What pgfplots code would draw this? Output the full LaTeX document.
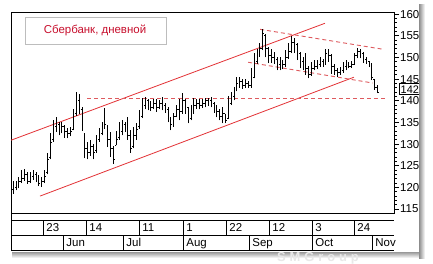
\documentclass[border=0pt]{standalone}
\usepackage{fontspec}
\setmainfont{Liberation Sans}
\newfontfamily\wmfont[LetterSpace=30]{Liberation Sans}
\usepackage{pgfplots}
\usepackage{pgfplotstable}
\pgfplotsset{compat=1.18}
\definecolor{trendred}{HTML}{E33236}
\definecolor{dashred}{HTML}{DE5A5E}
\definecolor{titlered}{HTML}{C8102E}
\definecolor{boxgray}{HTML}{BDBDBD}
\pgfplotstableread{
i o h l c
0 119.5 121.5 118.5 120.0
1 120.0 121.5 119.3 120.5
2 120.5 122.3 119.8 121.5
3 121.5 124.0 121.0 122.0
4 122.0 124.3 121.5 123.0
5 123.0 123.6 120.8 121.5
6 121.5 123.5 121.0 122.5
7 122.5 124.0 121.8 123.0
8 123.0 123.5 121.2 122.0
9 122.0 122.8 120.3 121.0
10 121.0 122.3 120.2 121.5
11 121.5 124.0 121.0 122.5
12 123.5 128.0 123.0 126.5
13 127.0 132.5 126.5 130.5
14 131.0 135.5 130.5 134.0
15 134.0 136.3 132.8 134.5
16 134.5 135.2 132.0 133.0
17 133.0 135.0 132.5 134.0
18 134.0 134.5 131.5 133.0
19 133.0 133.8 131.3 132.5
20 132.5 134.0 131.8 133.0
21 133.5 138.0 133.2 136.5
22 137.0 142.0 136.5 140.0
23 140.0 141.5 137.0 139.5
24 138.0 138.5 133.0 134.5
25 132.0 132.5 126.7 129.0
26 129.0 130.5 126.5 128.0
27 128.0 131.0 127.3 129.5
28 129.5 130.0 126.5 128.0
29 128.5 132.0 128.0 131.0
30 131.0 133.7 130.5 132.5
31 132.5 135.0 132.0 134.0
32 134.0 138.3 133.5 134.5
33 134.0 134.4 129.3 131.0
34 131.0 132.7 127.0 129.0
35 129.0 129.5 125.5 126.5
36 129.8 133.0 129.7 131.0
37 131.5 135.0 131.0 133.0
38 133.0 135.5 132.0 134.5
39 134.5 135.0 132.8 133.5
40 133.5 136.2 131.0 132.0
41 132.0 133.2 128.0 129.0
42 129.5 134.0 129.0 132.0
43 132.0 134.8 131.0 133.5
44 134.0 137.8 133.5 136.0
45 136.5 140.6 136.0 139.0
46 139.0 140.8 138.0 140.0
47 140.0 140.5 137.8 139.0
48 139.0 140.0 137.6 138.5
49 138.5 140.5 138.0 139.5
50 139.5 140.5 137.5 138.5
51 138.5 140.3 138.0 139.5
52 139.5 140.8 137.8 139.0
53 139.0 139.6 137.3 138.0
54 138.0 138.5 135.0 136.0
55 136.0 136.2 133.2 134.5
56 134.5 137.3 134.0 136.5
57 136.5 139.0 136.2 138.0
58 138.0 140.5 135.5 137.5
59 137.5 141.7 137.0 140.0
60 140.0 140.5 137.0 139.0
61 138.5 138.5 134.8 136.0
62 136.0 139.0 135.5 137.5
63 137.5 140.6 137.0 139.0
64 139.0 140.4 138.2 139.5
65 139.5 140.5 138.0 139.0
66 139.0 140.4 138.4 139.5
67 139.5 140.6 138.5 140.0
68 140.0 140.7 138.8 140.0
69 140.0 140.8 138.5 139.5
70 139.5 139.8 137.2 138.0
71 138.0 139.0 136.2 137.5
72 137.5 138.0 135.5 136.5
73 136.5 138.5 134.8 137.0
74 137.0 137.0 134.8 135.5
75 136.0 141.0 135.8 139.5
76 139.5 142.0 139.0 141.0
77 141.0 143.2 140.1 142.5
78 142.5 145.5 142.2 144.0
79 144.0 145.5 143.0 144.5
80 144.5 145.0 142.8 143.5
81 143.5 145.0 143.0 144.0
82 144.0 144.6 142.9 143.5
83 143.5 147.5 143.0 145.5
84 145.5 151.0 145.2 149.0
85 149.0 152.0 148.5 150.5
86 150.5 153.3 150.2 152.0
87 152.0 156.5 151.7 155.5
88 155.0 155.5 150.0 152.0
89 152.0 152.5 148.7 150.5
90 150.5 152.0 148.7 150.0
91 150.0 151.3 148.6 149.5
92 149.5 150.0 147.0 148.5
93 148.5 150.0 147.0 148.0
94 148.0 149.5 147.3 148.5
95 148.5 151.7 147.8 150.0
96 150.0 153.3 149.7 151.5
97 151.5 155.0 151.0 153.5
98 153.5 154.5 151.0 153.0
99 153.0 153.3 149.4 151.0
100 151.0 151.3 147.5 149.0
101 149.0 150.0 147.0 148.0
102 148.0 151.0 146.0 147.5
103 147.5 148.0 145.2 146.0
104 146.0 149.0 145.8 147.5
105 147.5 149.4 147.0 148.0
106 148.0 149.5 147.3 148.5
107 148.5 150.0 147.8 149.0
108 149.0 149.6 147.8 148.5
109 148.5 152.0 148.3 151.0
110 151.0 152.0 149.0 150.5
111 150.5 150.7 146.3 148.0
112 148.0 148.4 146.0 147.0
113 147.0 147.5 145.5 146.5
114 146.5 147.8 146.0 147.0
115 147.0 149.0 146.5 148.0
116 148.0 149.4 147.0 148.5
117 148.5 149.0 147.5 148.0
118 148.0 149.3 147.6 148.5
119 148.5 151.0 148.3 150.5
120 150.5 152.3 149.8 151.5
121 151.5 152.0 149.8 151.0
122 151.0 151.3 148.7 149.5
123 149.5 150.0 148.5 149.0
124 149.0 149.2 147.8 148.0
125 148.0 148.7 144.8 145.5
126 145.0 145.0 142.5 143.0
127 143.0 143.6 141.8 142.0
}\ohlc
\begin{document}
\begin{tikzpicture}
\path[use as bounding box, fill=white] (0,0) rectangle (433bp,-264bp);
% drop shadow of the window
\shade[left color=black!45, right color=white] (419bp,-4bp) rectangle (425bp,-258bp);
\shade[top color=black!40, bottom color=white] (12bp,-252bp) rectangle (421bp,-258bp);
\fill[white] (0,0) rectangle (419bp,-252bp);
% faint watermark
\node[anchor=center, text=black!9, font=\wmfont\fontsize{13}{13}\selectfont\bfseries] at (318bp,-258bp) {SMGroup};
\begin{axis}[
  at={(11bp,-12bp)}, anchor=north west,
  width=383bp, height=201bp, scale only axis,
  xmin=-0.7, xmax=132.75, ymin=114.1, ymax=160.5,
  xtick=\empty,
  ytick={115,120,...,160},
  minor y tick num=4,
  ytick pos=right, yticklabel pos=right,
  tick align=outside,
  major tick length=5bp, minor tick length=2.5bp,
  every tick/.style={black, line width=0.7bp},
  axis line style={black, line width=0.9bp},
  yticklabel style={font=\fontsize{11.5}{12}\selectfont, anchor=west, inner sep=0pt, xshift=1bp},
  /pgf/number format/assume math mode=true,
  clip mode=individual,
]
% trend channel (solid)
\addplot[trendred, line width=0.8bp] coordinates {(-0.7,130.9) (108.7,157.9)};
\addplot[trendred, line width=0.8bp] coordinates {(9.4,118.0) (118.8,145.45)};
% dashed levels
\addplot[dashred, line width=0.9bp, dash pattern=on 4bp off 3bp] coordinates {(25.8,140.5) (129.6,140.5)};
\addplot[dashred, line width=0.9bp, dash pattern=on 4bp off 3bp] coordinates {(86.1,156.5) (128.9,151.9)};
\addplot[dashred, line width=0.9bp, dash pattern=on 4bp off 3bp] coordinates {(81.9,148.9) (125.4,144.1)};
% OHLC bars: high-low line, open tick (left), close tick (right)
\addplot[black, line width=0.75bp, mark=none, quiver={u=0, v=\thisrow{h}-\thisrow{l}}]
  table[x=i, y=l] {\ohlc};
\addplot[black, line width=0.75bp, mark=none, quiver={u=-0.42, v=0}]
  table[x=i, y=o] {\ohlc};
\addplot[black, line width=0.75bp, mark=none, quiver={u=0.42, v=0}]
  table[x=i, y=c] {\ohlc};
\end{axis}
% title box
\draw[boxgray, line width=1bp] (25bp,-17bp) rectangle (166bp,-44bp);
\node[anchor=center, text=titlered, font=\fontsize{11.5}{12}\selectfont] at (95bp,-30.5bp) {Сбербанк, дневной};
% last price box
\draw[black, line width=0.9bp, fill=white] (399bp,-83.5bp) rectangle (422bp,-94.5bp);
\node[anchor=west, inner sep=0pt, font=\fontsize{11}{11}\selectfont] at (400.5bp,-89.3bp) {142};
% date table
\begin{scope}[line width=0.9bp, black]
\draw (11bp,-213bp) -- (11bp,-250bp);
\draw (11bp,-220bp) -- (394bp,-220bp);
\draw (11bp,-235bp) -- (394bp,-235bp);
\draw (11bp,-250bp) -- (394bp,-250bp);
\foreach \xx/\lab in {43/23,86/14,139/11,183/1,226/22,269/12,312/3,354/24}{
  \draw (\xx bp,-220bp) -- (\xx bp,-235bp);
  \node[anchor=base west, inner sep=0pt, font=\fontsize{11.5}{12}\selectfont] at (\xx bp+3bp,-231.5bp) {\lab};
}
\foreach \xx/\lab in {63/Jun,123/Jul,183/Aug,249/Sep,312/Oct,372/Nov}{
  \draw (\xx bp,-235bp) -- (\xx bp,-250bp);
  \node[anchor=base west, inner sep=0pt, font=\fontsize{11.5}{12}\selectfont] at (\xx bp+3bp,-246.5bp) {\lab};
}
\end{scope}
% right shadow again over labels
\shade[left color=black!45, right color=white] (419bp,-4bp) rectangle (425bp,-258bp);
\end{tikzpicture}
\end{document}
